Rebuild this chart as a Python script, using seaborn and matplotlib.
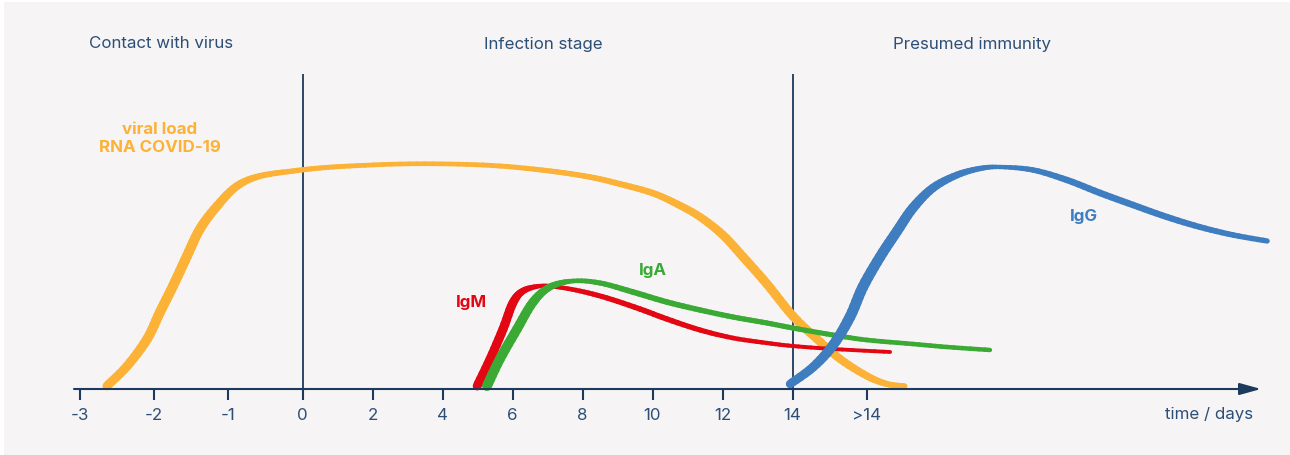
import numpy as np
import pandas as pd
import matplotlib
matplotlib.use("Agg")
import matplotlib.pyplot as plt
from matplotlib.path import Path
from matplotlib.patches import PathPatch
import seaborn as sns

# ---------------- data (x: axis position in day-units, y: relative level) -------------
tick_pos = [-6.37, -4.24, -2.13, 0, 2, 4, 6, 8, 10, 12, 14, 16.13]
tick_labels = ["-3", "-2", "-1", "0", "2", "4", "6", "8", "10", "12", "14", ">14"]

phase_labels = ["Contact with virus", "Infection stage", "Presumed immunity"]
phase_x = [-4.04, 6.87, 19.13]
phase_bounds = [0, 14]

viral_x = [-5.59, -5.01, -4.44, -4.07, -3.70, -3.30, -2.93, -2.44, -1.87, -1.21, -0.27,
           0.50, 1.36, 2.79, 4.21, 5.64, 7.07, 8.21, 9.07, 10.00, 10.70, 11.36, 12.01,
           12.59, 13.27, 14.01, 14.70, 15.36, 16.13, 16.70, 17.21]
viral_y = [3, 23, 50, 77, 103, 133, 160, 183, 203, 213, 218,
           221, 223, 225, 225, 223, 218, 212, 205, 196, 185, 172, 154,
           132, 105, 73, 50, 30, 13, 5, 3]

igg_x = [13.93, 14.59, 15.16, 15.64, 16.01, 16.50, 16.99, 17.44, 18.01, 18.70, 19.36,
         19.93, 20.87, 21.84, 22.79, 23.73, 24.70, 25.64, 26.59, 27.56]
igg_y = [5, 22, 44, 72, 102, 132, 158, 181, 201, 214, 220.5,
         222, 219, 209, 196, 184, 172, 162, 154, 148]

igm_x = [4.99, 5.36, 5.73, 6.01, 6.30, 6.79, 7.27, 7.93, 8.70, 9.64, 10.41, 11.36,
         12.30, 13.27, 14.01, 15.16, 16.79]
igm_y = [3, 30, 60, 86, 98, 103, 102, 98, 91, 80, 70, 59, 51, 46, 43, 40, 37]

iga_x = [5.27, 5.64, 6.13, 6.59, 7.07, 7.73, 8.50, 9.44, 10.41, 11.36, 12.30, 13.27,
         14.01, 15.16, 16.13, 17.44, 18.41, 19.64]
iga_y = [3, 30, 60, 87, 102, 108, 106, 97, 87, 79, 72, 66, 61, 54, 49, 45, 42, 39]

series_names = ["viral load", "RNA COVID-19", "IgM", "IgA", "IgG"]

# ---------------- style ----------------
NAVY = "#1b3a5c"
TEXT = "#2b4f77"
ORANGE = "#fbb236"
RED = "#e30613"
GREEN = "#3aaa35"
BLUE = "#3f7dc1"
BG = "#f6f4f5"
FS = 12.2

sns.set_theme(style="white")
plt.rcParams["font.family"] = ["Inter", "DejaVu Sans"]

W, H, DPI = 1290, 456, 100
fig = plt.figure(figsize=(W / DPI, H / DPI), dpi=DPI, facecolor="white")
ax = fig.add_axes([4 / W, 0, 1 - 4 / W, 453 / H])
ax.set_facecolor(BG)

PX_PER_U = 35.0
x0_px = 302.5
ax.set_xlim((4 - x0_px) / PX_PER_U, (W - x0_px) / PX_PER_U)
ax.set_ylim(390 - 456, 390 - 3)
for s in ax.spines.values():
    s.set_visible(False)


def draw_curve(xs, ys, color, base_px, extra_px, nsub=6):
    df = pd.DataFrame({"x": xs, "y": ys})
    sns.lineplot(data=df, x="x", y="y", ax=ax, color=color, sort=False,
                 lw=1.0, zorder=3)
    P = np.column_stack([xs, ys]).astype(float)
    n = len(P)
    Pe = np.vstack([P[0], P, P[-1]])
    # calligraphic pen: width grows with steepness of the local tangent
    tang = Pe[2:] - Pe[:-2]
    ang = np.arctan2(tang[:, 1], tang[:, 0] * PX_PER_U)
    wpt = (base_px + extra_px * np.abs(np.sin(ang))) * 0.72
    for i in range(n - 1):
        p0, p1, p2, p3 = Pe[i], Pe[i + 1], Pe[i + 2], Pe[i + 3]
        c1 = p1 + (p2 - p0) / 6.0
        c2 = p2 - (p3 - p1) / 6.0
        B = lambda t: ((1 - t) ** 3 * p1 + 3 * (1 - t) ** 2 * t * c1
                       + 3 * (1 - t) * t ** 2 * c2 + t ** 3 * p2)
        dB = lambda t: (3 * (1 - t) ** 2 * (c1 - p1) + 6 * (1 - t) * t * (c2 - c1)
                        + 3 * t ** 2 * (p2 - c2))
        ts = np.linspace(0, 1, nsub + 1)
        for a, b in zip(ts[:-1], ts[1:]):
            h = (b - a) / 3.0
            verts = [B(a), B(a) + h * dB(a), B(b) - h * dB(b), B(b)]
            path = Path(verts, [Path.MOVETO, Path.CURVE4, Path.CURVE4, Path.CURVE4])
            w = wpt[i] + (wpt[i + 1] - wpt[i]) * (a + b) / 2
            ax.add_patch(PathPatch(path, fill=False, edgecolor=color, lw=w,
                                   capstyle="round", joinstyle="round", zorder=3))


draw_curve(viral_x, viral_y, ORANGE, 4.5, 6.0)
draw_curve(igm_x, igm_y, RED, 3.5, 6.0)
draw_curve(iga_x, iga_y, GREEN, 4.0, 6.5)
draw_curve(igg_x, igg_y, BLUE, 4.0, 7.5)

# phase boundaries
ax.vlines(phase_bounds, -11, 315, color=NAVY, lw=1.3, zorder=2)

# time axis with arrow
ax.annotate("", xy=((1261 - x0_px) / PX_PER_U, 0), xytext=((74 - x0_px) / PX_PER_U, 0),
            arrowprops=dict(arrowstyle="-|>,head_length=1.3,head_width=0.36",
                            mutation_scale=10, lw=1.5, color=NAVY,
                            shrinkA=0, shrinkB=0), zorder=4)

ax.spines["bottom"].set_position(("data", 0))
ax.set_xticks(tick_pos)
ax.set_xticklabels(tick_labels)
ax.tick_params(axis="x", bottom=True, direction="out", length=8, width=1.5,
               color=NAVY, labelcolor=TEXT, labelsize=FS, pad=5)
ax.set_yticks([])
ax.set_xlabel("")
ax.set_ylabel("")

ax.text((1253 - x0_px) / PX_PER_U, -25, "time / days", ha="right", va="center",
        fontsize=FS, color=TEXT)

for lab, xp in zip(phase_labels, phase_x):
    ax.text(xp, 346, lab, ha="center", va="center", fontsize=FS, color=TEXT)

# series labels
ax.text(-4.07, 261, series_names[0], ha="center", va="center", fontsize=FS,
        fontweight="bold", color=ORANGE)
ax.text(-4.07, 242, series_names[1], ha="center", va="center", fontsize=FS,
        fontweight="bold", color=ORANGE)
ax.text(4.84, 87, series_names[2], ha="center", va="center", fontsize=FS,
        fontweight="bold", color=RED)
ax.text(10.01, 120, series_names[3], ha="center", va="center", fontsize=FS,
        fontweight="bold", color=GREEN)
ax.text(22.33, 174, series_names[4], ha="center", va="center", fontsize=FS,
        fontweight="bold", color=BLUE)

fig.savefig("out.png", dpi=DPI, facecolor="white")
